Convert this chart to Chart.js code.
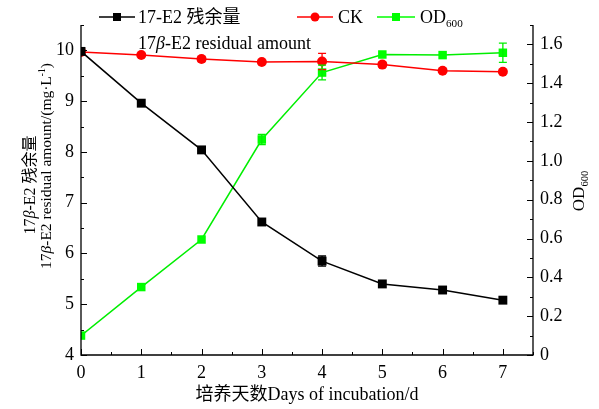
<!DOCTYPE html>
<html><head><meta charset="utf-8">
<script src="https://cdn.jsdelivr.net/npm/chart.js@4"></script>
<style>html,body{margin:0;padding:0;background:#fff}#wrap{width:599px;height:409px}</style>
</head><body><div id="wrap"><canvas id="c" width="599" height="409"></canvas></div>
<script>
const days = [0, 1, 2, 3, 4, 5, 6, 7];
const residual = [9.98, 8.96, 8.04, 6.62, 5.85, 5.40, 5.28, 5.08];
const residualErr = [0, 0, 0, 0, 0.10, 0, 0, 0];
const ck = [9.97, 9.91, 9.83, 9.77, 9.78, 9.72, 9.60, 9.58];
const ckErr = [0, 0, 0.05, 0, 0.16, 0.05, 0, 0];
const od600 = [0.10, 0.35, 0.595, 1.11, 1.455, 1.548, 1.545, 1.557];
const odErr = [0, 0, 0, 0.026, 0.038, 0, 0, 0.05];
const xTicks = [0, 1, 2, 3, 4, 5, 6, 7];
const leftTicks = [4, 5, 6, 7, 8, 9, 10];
const rightTicks = [0, 0.2, 0.4, 0.6, 0.8, 1.0, 1.2, 1.4, 1.6];
const rightTickLabels = ['0', '0.2', '0.4', '0.6', '0.8', '1.0', '1.2', '1.4', '1.6'];
const xTitle = '培养天数Days of incubation/d';

const SERIF = '"Liberation Serif", "Times New Roman", "Noto Sans CJK SC", serif';
const pts = (ys) => days.map((d, i) => ({x: d, y: ys[i]}));

function richWidth(ctx, parts, size) {
  let w = 0;
  for (const p of parts) {
    const s = (p.sub || p.sup) ? size * 0.62 : size;
    ctx.font = (p.italic ? 'italic ' : '') + s + 'px ' + SERIF;
    w += ctx.measureText(p.t).width;
  }
  return w;
}
function drawRich(ctx, parts, x, y, size, align) {
  let w = richWidth(ctx, parts, size);
  let cx = align === 'center' ? x - w / 2 : x;
  ctx.textBaseline = 'alphabetic';
  ctx.textAlign = 'left';
  for (const p of parts) {
    const s = (p.sub || p.sup) ? size * 0.62 : size;
    ctx.font = (p.italic ? 'italic ' : '') + s + 'px ' + SERIF;
    let dy = p.sub ? size * 0.22 : (p.sup ? -size * 0.38 : 0);
    ctx.fillText(p.t, cx, y + dy);
    cx += ctx.measureText(p.t).width;
  }
}

const decor = {
  id: 'decor',
  afterDatasetsDraw(chart) {
    const ctx = chart.ctx;
    const sx = chart.scales.x, yl = chart.scales.y, yr = chart.scales.y1;
    const sets = [[residual, residualErr, yl, '#000000'], [ck, ckErr, yl, '#ff0000'], [od600, odErr, yr, '#00ee00']];
    ctx.save();
    ctx.lineWidth = 1.3;
    for (const [vals, errs, sc, col] of sets) {
      ctx.strokeStyle = col;
      days.forEach((d, i) => {
        if (!errs[i]) return;
        const px = sx.getPixelForValue(d);
        const t = sc.getPixelForValue(vals[i] + errs[i]);
        const b = sc.getPixelForValue(vals[i] - errs[i]);
        ctx.beginPath();
        ctx.moveTo(px, t); ctx.lineTo(px, b);
        ctx.moveTo(px - 4, t); ctx.lineTo(px + 4, t);
        ctx.moveTo(px - 4, b); ctx.lineTo(px + 4, b);
        ctx.stroke();
      });
    }
    ctx.restore();
  },
  afterDraw(chart) {
    const ctx = chart.ctx;
    const a = chart.chartArea;
    const sx = chart.scales.x, yl = chart.scales.y, yr = chart.scales.y1;
    ctx.save();
    ctx.strokeStyle = '#000';
    ctx.lineWidth = 1.3;
    ctx.beginPath();
    ctx.moveTo(a.left, a.top); ctx.lineTo(a.left, a.bottom); ctx.lineTo(a.right, a.bottom); ctx.lineTo(a.right, a.top);
    ctx.stroke();
    ctx.lineWidth = 1;
    ctx.beginPath();
    for (let v = 0; v <= 7.5 + 1e-9; v += 0.5) {
      const p = Math.round(sx.getPixelForValue(v)) + 0.5;
      const len = Number.isInteger(v) ? 6 : 3;
      ctx.moveTo(p, a.bottom); ctx.lineTo(p, a.bottom - len);
    }
    for (let v = 4; v <= 10.5 + 1e-9; v += 0.5) {
      const p = Math.round(yl.getPixelForValue(v)) + 0.5;
      const len = Number.isInteger(v) ? 6 : 3;
      ctx.moveTo(a.left, p); ctx.lineTo(a.left + len, p);
    }
    for (let k = 0; k <= 17; k++) {
      const v = k / 10;
      const p = Math.round(yr.getPixelForValue(v)) + 0.5;
      const len = (k % 2 === 0) ? 6 : 3;
      ctx.moveTo(a.right, p); ctx.lineTo(a.right - len, p);
    }
    ctx.stroke();

    ctx.fillStyle = '#000';
    ctx.font = '18px ' + SERIF;
    ctx.textAlign = 'center';
    ctx.textBaseline = 'alphabetic';
    ctx.fillText(xTitle, (a.left + a.right) / 2, 400);

    ctx.save();
    ctx.translate(29, 185);
    ctx.rotate(-Math.PI / 2);
    drawRich(ctx, [{t: '17'}, {t: 'β', italic: true}, {t: '-E2 残余量'}], 0, 6, 16, 'center');
    ctx.restore();
    ctx.save();
    ctx.translate(45, 166);
    ctx.rotate(-Math.PI / 2);
    drawRich(ctx, [{t: '17'}, {t: 'β', italic: true}, {t: '-E2 residual amount/(mg·L'}, {t: '-1', sup: true}, {t: ')'}], 0, 6, 15.5, 'center');
    ctx.restore();
    ctx.save();
    ctx.translate(578, 191);
    ctx.rotate(-Math.PI / 2);
    drawRich(ctx, [{t: 'OD'}, {t: '600', sub: true}], 0, 6, 17, 'center');
    ctx.restore();

    const legendItems = [
      {x1: 99, x2: 135, col: '#000000', shape: 'rect'},
      {x1: 297, x2: 333, col: '#ff0000', shape: 'circle'},
      {x1: 377, x2: 415, col: '#00ff00', shape: 'rect'}
    ];
    const ly = 17;
    ctx.lineWidth = 1.5;
    for (const it of legendItems) {
      ctx.strokeStyle = it.col; ctx.fillStyle = it.col;
      ctx.beginPath(); ctx.moveTo(it.x1, ly); ctx.lineTo(it.x2, ly); ctx.stroke();
      const mx = (it.x1 + it.x2) / 2;
      ctx.beginPath();
      if (it.shape === 'rect') ctx.rect(mx - 4, ly - 4, 8, 8);
      else ctx.arc(mx, ly, 4.5, 0, Math.PI * 2);
      ctx.fill();
    }
    ctx.fillStyle = '#000';
    drawRich(ctx, [{t: '17-E2 残余量'}], 138, 23, 18, 'left');
    drawRich(ctx, [{t: '17'}, {t: 'β', italic: true}, {t: '-E2 residual amount'}], 138, 49, 18, 'left');
    drawRich(ctx, [{t: 'CK'}], 338, 23, 18, 'left');
    drawRich(ctx, [{t: 'OD'}, {t: '600', sub: true}], 420, 23, 18, 'left');
    ctx.restore();
  }
};

new Chart(document.getElementById('c'), {
  type: 'line',
  data: {
    datasets: [
      {label: '17-E2 残余量', data: pts(residual), yAxisID: 'y', borderColor: '#000000', backgroundColor: '#000000',
       pointStyle: 'rect', pointRadius: 6.3, borderWidth: 1.5, pointBorderWidth: 0},
      {label: 'CK', data: pts(ck), yAxisID: 'y', borderColor: '#ff0000', backgroundColor: '#ff0000',
       pointStyle: 'circle', pointRadius: 5, borderWidth: 1.5, pointBorderWidth: 0},
      {label: 'OD600', data: pts(od600), yAxisID: 'y1', borderColor: '#00ee00', backgroundColor: '#00ff00',
       pointStyle: 'rect', pointRadius: 6, borderWidth: 1.5, pointBorderWidth: 0}
    ]
  },
  options: {
    responsive: false,
    animation: false,
    devicePixelRatio: 1,
    layout: {padding: {top: 25, left: 0, right: 0, bottom: 0}},
    plugins: {legend: {display: false}, tooltip: {enabled: false}},
    elements: {line: {tension: 0}},
    scales: {
      x: {
        type: 'linear', min: 0, max: 7.5,
        afterBuildTicks: (s) => { s.ticks = xTicks.map(v => ({value: v})); },
        afterFit: (s) => { s.height = 54; },
        grid: {display: false, drawTicks: false}, border: {display: false},
        ticks: {color: '#000', font: {family: SERIF, size: 18}, padding: 7, maxRotation: 0,
                callback: (v) => String(v)}
      },
      y: {
        type: 'linear', position: 'left', min: 4, max: 10.5,
        afterBuildTicks: (s) => { s.ticks = leftTicks.map(v => ({value: v})); },
        afterFit: (s) => { s.width = 81; },
        grid: {display: false, drawTicks: false}, border: {display: false},
        ticks: {color: '#000', font: {family: SERIF, size: 18}, padding: 7, callback: (v) => String(v)}
      },
      y1: {
        type: 'linear', position: 'right', min: 0, max: 1.7,
        afterBuildTicks: (s) => { s.ticks = rightTicks.map(v => ({value: v})); },
        afterFit: (s) => { s.width = 66; },
        grid: {display: false, drawTicks: false}, border: {display: false},
        ticks: {color: '#000', font: {family: SERIF, size: 18}, padding: 7,
                callback: (v, i) => rightTickLabels[i]}
      }
    }
  },
  plugins: [decor]
});
</script></body></html>
